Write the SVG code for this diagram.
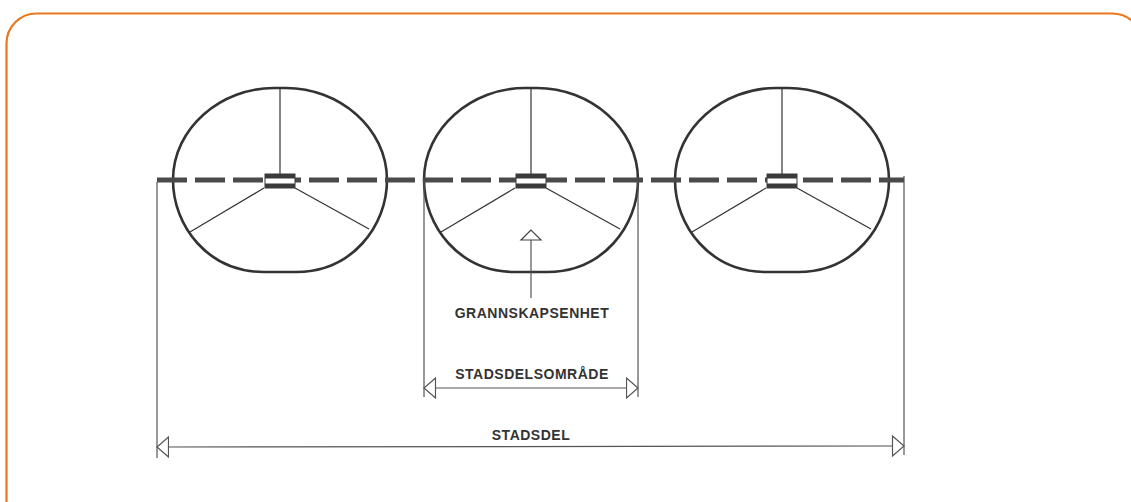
<svg xmlns="http://www.w3.org/2000/svg" width="1131" height="502" viewBox="0 0 1131 502">
<defs>
<style>
.frame{fill:none;stroke:#E8771E;stroke-width:2.2}
.unit{fill:#fff;stroke:#333;stroke-width:2.6}
.spoke{stroke:#333;stroke-width:1.2;fill:none}
.road{stroke:#4a4a4a;stroke-width:5;stroke-dasharray:30 8;fill:none}
.bar{fill:#3a3a3a}
.hub{fill:#fff;stroke:#3a3a3a;stroke-width:1}
.dim{stroke:#555;stroke-width:1.2;fill:none}
.lbl{font-family:"Liberation Sans",Arial,sans-serif;font-weight:bold;font-size:14px;letter-spacing:0.5px;fill:#333;text-anchor:middle}
</style>
<marker id="arr" markerUnits="userSpaceOnUse" markerWidth="14" markerHeight="22" refX="12.5" refY="11" orient="auto-start-reverse" viewBox="0 0 14 22">
<path d="M1,1 L12.5,11 L1,21 Z" fill="#fff" stroke="#555" stroke-width="1.2"/>
</marker>
<path id="shape" d="M-6,88 L6,88 C59,88 107,128 107,180 C107,226 72,272 16,272 L-16,272 C-72,272 -107,226 -107,180 C-107,128 -59,88 -6,88 Z"/>
</defs>
<rect class="frame" x="6.5" y="13.5" width="1136" height="530" rx="30"/>
<g id="circle1" transform="translate(280,0)">
<use href="#shape" class="unit"/>
<line class="spoke" x1="0" y1="89" x2="0" y2="174"/>
<line class="spoke" x1="-16" y1="188" x2="-90" y2="232"/>
<line class="spoke" x1="15" y1="188" x2="89" y2="229"/>
</g>
<g id="circle2" transform="translate(531,0)">
<use href="#shape" class="unit"/>
<line class="spoke" x1="0" y1="89" x2="0" y2="174"/>
<line class="spoke" x1="-16" y1="188" x2="-90" y2="232"/>
<line class="spoke" x1="15" y1="188" x2="89" y2="229"/>
</g>
<g id="circle3" transform="translate(782,0)">
<use href="#shape" class="unit"/>
<line class="spoke" x1="0" y1="89" x2="0" y2="174"/>
<line class="spoke" x1="-16" y1="188" x2="-90" y2="232"/>
<line class="spoke" x1="15" y1="188" x2="89" y2="229"/>
</g>
<g id="connectors">
<line class="road" x1="157" y1="180" x2="904" y2="180"/>
<g id="hubs">
<g transform="translate(280,0)"><rect class="hub" x="-15" y="174" width="30" height="14"/><rect class="bar" x="-15" y="174" width="30" height="4.5"/><rect class="bar" x="-15" y="183.5" width="30" height="4.5"/></g>
<g transform="translate(531,0)"><rect class="hub" x="-15" y="174" width="30" height="14"/><rect class="bar" x="-15" y="174" width="30" height="4.5"/><rect class="bar" x="-15" y="183.5" width="30" height="4.5"/></g>
<g transform="translate(782,0)"><rect class="hub" x="-15" y="174" width="30" height="14"/><rect class="bar" x="-15" y="174" width="30" height="4.5"/><rect class="bar" x="-15" y="183.5" width="30" height="4.5"/></g>
</g>
<line class="dim" x1="157" y1="182" x2="157" y2="458"/>
<line class="dim" x1="904" y1="176" x2="904" y2="455"/>
<line class="dim" x1="424" y1="182" x2="424" y2="397"/>
<line class="dim" x1="638" y1="182" x2="638" y2="397"/>
<line class="dim" x1="157" y1="447" x2="904" y2="446" marker-start="url(#arr)" marker-end="url(#arr)"/>
<line class="dim" x1="424" y1="388" x2="638" y2="388" marker-start="url(#arr)" marker-end="url(#arr)"/>
<line class="dim" x1="531" y1="298" x2="531" y2="240"/>
<path d="M531,230 L521,240 L541,240 Z" fill="#fff" stroke="#444" stroke-width="1.2"/>
</g>
<g id="labels">
<text class="lbl" x="532" y="318">GRANNSKAPSENHET</text>
<text class="lbl" x="532" y="379">STADSDELSOMRÅDE</text>
<text class="lbl" x="531" y="440">STADSDEL</text>
</g>
</svg>
